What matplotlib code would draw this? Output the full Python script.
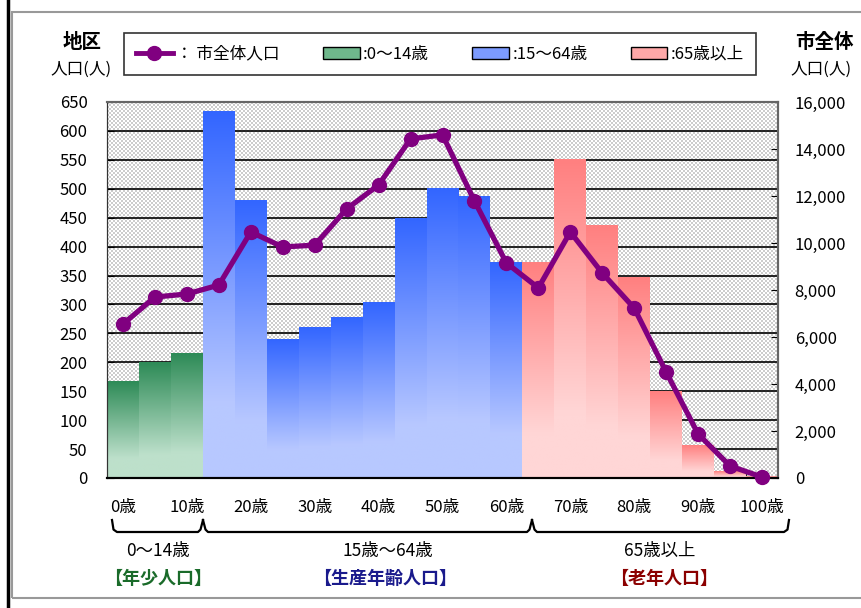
import numpy as np
import matplotlib
matplotlib.use('Agg')
import matplotlib.pyplot as plt
from matplotlib.lines import Line2D
from matplotlib.patches import Patch, Rectangle
from matplotlib.colors import to_rgb

plt.rcParams['font.family'] = ['Noto Sans CJK JP', 'DejaVu Sans']

# district population by 5-year age group (left axis)
district_pop = [166, 200, 216, 634, 480, 239, 261, 277, 304, 448, 500,
                487, 373, 373, 551, 437, 347, 150, 57, 12, 2]
# whole city population by 5-year age group (right axis)
city_pop = [6550, 7700, 7830, 8210, 10470, 9830, 9910, 11450, 12470, 14430,
            14600, 11790, 9150, 8090, 10470, 8720, 7230, 4510, 1870, 510, 40]
# age group of each bar: 0 = 0-14, 1 = 15-64, 2 = 65+
groups = [0, 0, 0, 1, 1, 1, 1, 1, 1, 1, 1, 1, 1, 2, 2, 2, 2, 2, 2, 2, 2]
tick_labels = ['0歳', '10歳', '20歳', '30歳', '40歳', '50歳',
               '60歳', '70歳', '80歳', '90歳', '100歳']

# top / bottom colours of the gradient for each group
grad_top = ['#2e8b57', '#3366ff', '#ff8080']
grad_bot = ['#bde0cb', '#b8c8ff', '#ffd6d6']
legend_cols = ['#6fb88c', '#7c9bff', '#ffa8a8']
legend_names = [':0～14歳', ':15～64歳', ':65歳以上']

fig = plt.figure(figsize=(8.61, 6.08), dpi=100)
ax1 = fig.add_axes([107/861, 1-478/608, 671/861, 376/608])
ax2 = ax1.twinx()

# checkered background (2 px cells, one array cell per screen pixel)
nx, ny = 671, 376
checker = ((np.arange(ny)[:, None] // 2 + np.arange(nx)[None, :] // 2) % 2).astype(float)
ax1.imshow(checker, cmap='gray', vmin=-4.0, vmax=1, extent=(0, 1, 0, 1),
           transform=ax1.transAxes, interpolation='nearest', aspect='auto', zorder=0)

# gradient bars
n = len(district_pop)
for i, (v, g) in enumerate(zip(district_pop, groups)):
    top = np.array(to_rgb(grad_top[g]))
    bot = np.array(to_rgb(grad_bot[g]))
    t = np.clip(np.linspace(0, 1, 100) * 1.25, 0, 1)[:, None]
    img = (top + (bot - top) * t)[:, None, :]
    ax1.imshow(img, extent=(i - 0.5, i + 0.5, 0, v), aspect='auto',
               interpolation='bilinear', zorder=2)

ax1.set_xlim(-0.5, n - 0.5)
ax1.set_ylim(0, 650)
ax1.set_yticks(np.arange(0, 651, 50))
ax1.grid(axis='y', color='black', linewidth=1.2, zorder=0.5)
ax1.set_axisbelow(True)
ax1.set_xticks(np.arange(0, n, 2))
ax1.set_xticklabels(tick_labels)
ax1.set_xticks(np.arange(-0.5, n, 1), minor=True)
ax1.tick_params(axis='x', which='major', length=0, labelsize=12, pad=15)
ax1.tick_params(axis='x', which='minor', direction='in', length=5)
ax1.tick_params(axis='y', direction='in', length=5, labelsize=12, pad=14)

# city line on right axis
ax2.plot(range(n), city_pop, color='#800080', linewidth=3.8, marker='o',
         markersize=10, zorder=5, clip_on=False)
ax2.set_ylim(0, 16000)
ax2.set_yticks(np.arange(0, 16001, 2000))
ax2.set_yticklabels([f'{v:,}' for v in range(0, 16001, 2000)])
ax2.tick_params(axis='y', direction='in', length=5, labelsize=12, pad=12)

for ax in (ax1, ax2):
    for s in ('top', 'right'):
        ax.spines[s].set_color('#666666')
        ax.spines[s].set_linewidth(1.5)
    ax.spines['left'].set_color('#333333')
    ax.spines['bottom'].set_color('black')
    ax.spines['bottom'].set_linewidth(1.5)

# axis titles
fig.text(82/861, 1-42/608, '地区', ha='center', va='center', fontsize=14, fontweight='bold')
fig.text(81/861, 1-69/608, '人口(人)', ha='center', va='center', fontsize=12)
fig.text(824/861, 1-42/608, '市全体', ha='center', va='center', fontsize=14, fontweight='bold')
fig.text(821/861, 1-69/608, '人口(人)', ha='center', va='center', fontsize=12)

# legend
handles = [Line2D([], [], color='#800080', linewidth=3.5, marker='o', markersize=10)]
handles += [Patch(facecolor=c, edgecolor='black') for c in legend_cols]
labels = ['： 市全体人口'] + legend_names
leg = fig.legend(handles, labels, loc='center', bbox_to_anchor=(440/861, 1-54/608),
                 ncol=4, frameon=True, fancybox=False, edgecolor='black', fontsize=12,
                 handlelength=2.2, handletextpad=0.2, columnspacing=2.6,
                 borderpad=0.75)
leg.get_frame().set_linewidth(1.2)

# curly braces under x axis
def brace(x0, x1, left_curl, right_curl):
    trans = fig.transFigure
    xs0, xs1 = x0/861, x1/861
    yb, yt = 1-532/608, 1-520/608
    d = 5/861
    px, py = [], []
    if left_curl == 'end':
        px += [xs0, xs0 + d*0.3, xs0 + d]
    else:
        px += [xs0, xs0 + d*0.5, xs0 + d]
    py += [yt, yb + 0.004, yb]
    px += [xs1 - d]
    py += [yb]
    if right_curl == 'end':
        px += [xs1 - d*0.3, xs1]
    else:
        px += [xs1 - d*0.5, xs1]
    py += [yb + 0.004, yt]
    fig.add_artist(Line2D(px, py, transform=trans, color='black', linewidth=1.6))

brace(112, 203, 'end', 'peak')
brace(203, 532, 'peak', 'peak')
brace(532, 789, 'peak', 'end')

fig.text(158/861, 1-551/608, '0～14歳', ha='center', va='center', fontsize=12.5)
fig.text(158/861, 1-578/608, '【年少人口】', ha='center', va='center', fontsize=13,
         fontweight='bold', color='#1a6b2a')
fig.text(388/861, 1-551/608, '15歳～64歳', ha='center', va='center', fontsize=12.5)
fig.text(385/861, 1-578/608, '【生産年齢人口】', ha='center', va='center', fontsize=13,
         fontweight='bold', color='#1a1a8c')
fig.text(660/861, 1-551/608, '65歳以上', ha='center', va='center', fontsize=12.5)
fig.text(664/861, 1-578/608, '【老年人口】', ha='center', va='center', fontsize=13,
         fontweight='bold', color='#8b0000')

# outer frame
fig.add_artist(Rectangle((12/861, 1-598/608), 1.0, 586/608, transform=fig.transFigure,
                         fill=False, edgecolor='#999999', linewidth=1.5))
fig.add_artist(Line2D([8/861, 8/861], [0, 1], transform=fig.transFigure,
                      color='black', linewidth=2.5))

fig.savefig('out.png', dpi=100)
